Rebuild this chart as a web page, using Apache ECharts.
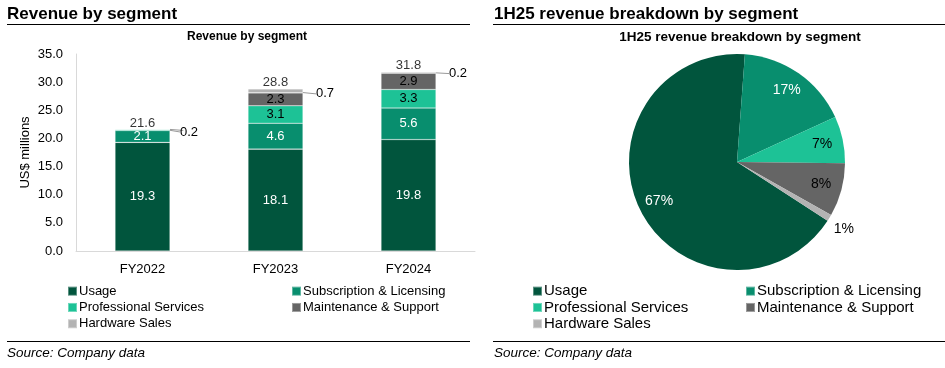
<!DOCTYPE html>
<html><head><meta charset="utf-8">
<script src="https://cdn.jsdelivr.net/npm/echarts@6/dist/echarts.min.js"></script>
<style>html,body{margin:0;padding:0;background:#fff}#c{width:945px;height:368px}</style>
</head><body><div id="c"></div>
<script>
// ---- data ----
const categories = ['FY2022', 'FY2023', 'FY2024'];
const usage = [19.3, 18.1, 19.8];
const subscription = [2.1, 4.6, 5.6];
const professional = [0.2, 3.1, 3.3];
const maintenance = [0, 2.3, 2.9];
const hardware = [0, 0.7, 0.2];
const totals = [21.6, 28.8, 31.8];
const segmentNames = ['Usage', 'Subscription & Licensing', 'Professional Services', 'Maintenance & Support', 'Hardware Sales'];
const pieValues = [67, 17, 7, 8, 1];
const yMin = 0, yMax = 35, yStep = 5;

const colors = ['#01553d', '#088e6e', '#1dc296', '#656565', '#b3b3b3'];
const FONT = '"Liberation Sans", Arial, sans-serif';

const chart = echarts.init(document.getElementById('c'), null, {renderer: 'canvas'});

const fmt = p => (p.value === 0 ? '' : p.value.toFixed(1));
const inLabel = (color) => ({show: true, position: 'inside', color: color, fontFamily: FONT, fontSize: 13, formatter: fmt});
const sideLabel = {show: true, position: 'right', distance: 4, color: '#000', fontFamily: FONT, fontSize: 13, formatter: fmt};

function barSeries(name, values, idx, label, extra) {
  return Object.assign({
    name: name, type: 'bar', stack: 'rev', xAxisIndex: 0, yAxisIndex: 0,
    barWidth: 55, data: values,
    itemStyle: {color: colors[idx], borderColor: 'rgba(255,255,255,0.35)', borderWidth: 0.6},
    label: label, emphasis: {disabled: true}, silent: true
  }, extra || {});
}

const profData = professional.map((v, i) => i === 0 ? {value: v, label: sideLabel, labelLine: {show: true, lineStyle: {color: '#999', width: 1}}} : v);

const titleStyle = {fontFamily: FONT, fontSize: 17, fontWeight: 'bold', color: '#000'};
const srcStyle = {fontFamily: FONT, fontSize: 13.5, fontStyle: 'italic', fontWeight: 'normal', color: '#000'};
const legendBase = {orient: 'vertical', icon: 'rect', itemWidth: 9, itemHeight: 9, itemGap: 0, selectedMode: false, padding: 0};

const option = {
  animation: false,
  textStyle: {fontFamily: FONT},
  title: [
    {text: 'Revenue by segment', left: 7, top: 6, padding: 0, textStyle: titleStyle},
    {text: '1H25 revenue breakdown by segment', left: 494, top: 6, padding: 0, textStyle: titleStyle},
    {text: 'Revenue by segment', left: 247, top: 31, padding: 0, textAlign: 'center', textStyle: {fontFamily: FONT, fontSize: 12, fontWeight: 'bold', color: '#000'}},
    {text: '1H25 revenue breakdown by segment', left: 740, top: 30, padding: 0, textAlign: 'center', textStyle: {fontFamily: FONT, fontSize: 13.5, fontWeight: 'bold', color: '#000'}},
    {text: 'Source: Company data', left: 7, top: 346, padding: 0, textStyle: srcStyle},
    {text: 'Source: Company data', left: 494, top: 346, padding: 0, textStyle: srcStyle}
  ],
  graphic: [
    {type: 'line', shape: {x1: 7, y1: 24.5, x2: 470, y2: 24.5}, style: {stroke: '#000', lineWidth: 1}},
    {type: 'line', shape: {x1: 493, y1: 24.5, x2: 945, y2: 24.5}, style: {stroke: '#000', lineWidth: 1}},
    {type: 'line', shape: {x1: 7, y1: 341.5, x2: 470, y2: 341.5}, style: {stroke: '#000', lineWidth: 1}},
    {type: 'line', shape: {x1: 493, y1: 341.5, x2: 945, y2: 341.5}, style: {stroke: '#000', lineWidth: 1}}
  ],
  legend: [
    Object.assign({}, legendBase, {data: ['Usage', 'Professional Services', 'Hardware Sales'], left: 67, top: 283,
     textStyle: {fontFamily: FONT, fontSize: 13, color: '#000', padding: [0, 0, 0, -3], lineHeight: 16.3}}),
    Object.assign({}, legendBase, {data: ['Subscription & Licensing', 'Maintenance & Support'], left: 291, top: 283,
     textStyle: {fontFamily: FONT, fontSize: 13, color: '#000', padding: [0, 0, 0, -3], lineHeight: 16.3}}),
    Object.assign({}, legendBase, {data: ['Usage', 'Professional Services', 'Hardware Sales'], left: 532, top: 283,
     textStyle: {fontFamily: FONT, fontSize: 15, color: '#000', padding: [0, 0, 0, -3], lineHeight: 16.3}}),
    Object.assign({}, legendBase, {data: ['Subscription & Licensing', 'Maintenance & Support'], left: 745, top: 283,
     textStyle: {fontFamily: FONT, fontSize: 15, color: '#000', padding: [0, 0, 0, -3], lineHeight: 16.3}})
  ],
  grid: [{left: 76, right: 470, top: 54, bottom: 117}],
  xAxis: [{
    type: 'category', data: categories, gridIndex: 0,
    axisLine: {lineStyle: {color: '#d9d9d9', width: 1}}, axisTick: {show: false},
    axisLabel: {color: '#000', fontFamily: FONT, fontSize: 13, margin: 12}
  }],
  yAxis: [{
    type: 'value', gridIndex: 0, min: yMin, max: yMax, interval: yStep,
    name: 'US$ millions', nameLocation: 'middle', nameGap: 44, nameRotate: 90,
    nameTextStyle: {color: '#000', fontFamily: FONT, fontSize: 13},
    axisLine: {show: true, lineStyle: {color: '#d9d9d9', width: 1}}, axisTick: {show: false},
    splitLine: {show: false},
    axisLabel: {color: '#000', fontFamily: FONT, fontSize: 13, margin: 13, formatter: v => v.toFixed(1)}
  }],
  series: [
    barSeries(segmentNames[0], usage, 0, inLabel('#fff')),
    barSeries(segmentNames[1], subscription, 1, inLabel('#fff')),
    barSeries(segmentNames[2], profData, 2, inLabel('#000'), {labelLayout: p => p.dataIndex === 0 ? {dx: 6, dy: 2} : {}}),
    barSeries(segmentNames[3], maintenance, 3, inLabel('#000')),
    barSeries(segmentNames[4], hardware, 4, sideLabel, {labelLayout: p => ({dx: 9, dy: p.dataIndex === 1 ? 3 : 1}), labelLine: {show: true, lineStyle: {color: '#999', width: 1}}}),
    {
      name: 'Total', type: 'scatter', xAxisIndex: 0, yAxisIndex: 0, data: totals, symbolSize: 0, silent: true,
      label: {show: true, position: 'top', distance: 0, color: '#000', fontFamily: FONT, fontSize: 13, formatter: p => p.value.toFixed(1)}
    },
    {
      name: 'Pie', type: 'pie', center: [737, 162], radius: [0, 108], startAngle: -33, clockwise: true,
      silent: true, emphasis: {disabled: true},
      data: segmentNames.map((n, i) => ({name: n, value: pieValues[i], itemStyle: {color: colors[i]}})),
      label: {show: false}, labelLine: {show: false}
    },
    {
      name: 'PieLabels', type: 'pie', center: [737, 162], radius: [60, 108], startAngle: -33, clockwise: true,
      silent: true, emphasis: {disabled: true}, legendHoverLink: false,
      data: segmentNames.map((n, i) => ({
        name: n, value: pieValues[i], itemStyle: {color: 'rgba(0,0,0,0)'},
        label: i === 4
          ? {position: 'outside', color: '#000', fontSize: 14, fontFamily: FONT, formatter: '{c}%'}
          : {position: 'inside', color: (i <= 1 ? '#fff' : '#000'), fontSize: 14, fontFamily: FONT, formatter: '{c}%'}
      })),
      labelLayout: p => p.dataIndex === 4 ? {dx: -4, dy: 9} : {},
      label: {show: true}, labelLine: {show: false, length: 4, length2: 0}
    }
  ]
};
chart.setOption(option);
</script></body></html>
